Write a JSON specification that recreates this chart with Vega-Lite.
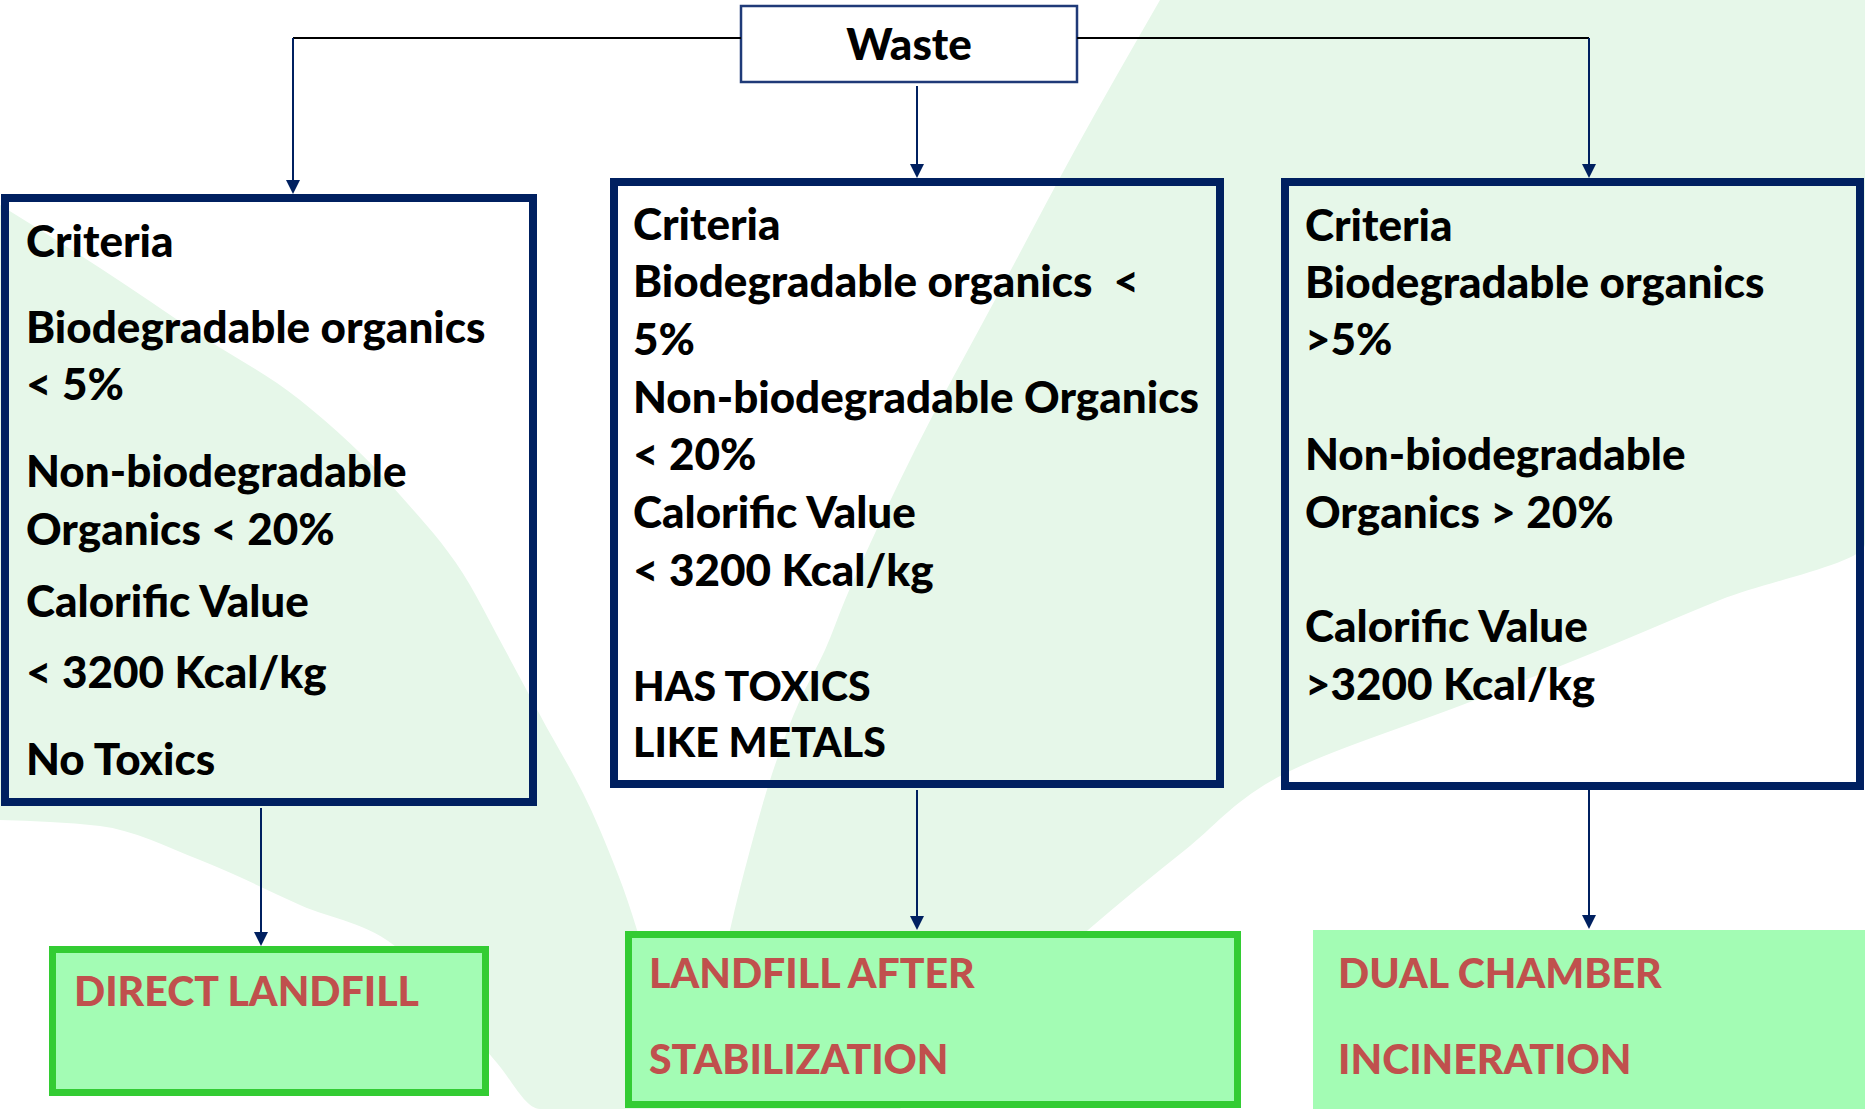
{
  "$schema": "https://vega.github.io/schema/vega-lite/v6.json",
  "width": 1865,
  "height": 1109,
  "autosize": {"type": "fit", "contains": "padding"},
  "padding": 0,
  "background": "white",
  "config": {"view": {"stroke": null}},
  "datasets": {
    "leafB": [
      {"x": 0, "top": 205, "bot": 820},
      {"x": 100, "top": 268, "bot": 826},
      {"x": 200, "top": 335, "bot": 860},
      {"x": 300, "top": 400, "bot": 905},
      {"x": 400, "top": 495, "bot": 950},
      {"x": 470, "top": 585, "bot": 1030},
      {"x": 497, "top": 635, "bot": 1063},
      {"x": 540, "top": 715, "bot": 1109},
      {"x": 600, "top": 830, "bot": 1109},
      {"x": 637, "top": 930, "bot": 1109},
      {"x": 680, "top": 1109, "bot": 1109}
    ],
    "leafA": [
      {"y": 0, "left": 1160, "right": 1865},
      {"y": 150, "left": 1075, "right": 1865},
      {"y": 300, "left": 995, "right": 1865},
      {"y": 450, "left": 915, "right": 1865},
      {"y": 544, "left": 870, "right": 1865},
      {"y": 600, "left": 845, "right": 1720},
      {"y": 650, "left": 825, "right": 1600},
      {"y": 700, "left": 800, "right": 1475},
      {"y": 774, "left": 772, "right": 1284},
      {"y": 850, "left": 750, "right": 1185},
      {"y": 930, "left": 730, "right": 1088},
      {"y": 1109, "left": 700, "right": 900}
    ],
    "criteriaBoxes": [
      {"box": "left", "x": 5, "x2": 533, "y": 198, "y2": 802},
      {"box": "middle", "x": 614, "x2": 1220, "y": 182, "y2": 784},
      {"box": "right", "x": 1285, "x2": 1860, "y": 182, "y2": 786}
    ],
    "wasteBox": [
      {"box": "Waste", "x": 741, "x2": 1077, "y": 6, "y2": 82}
    ],
    "outcomeBoxes": [
      {"box": "DIRECT LANDFILL", "x": 52.5, "x2": 485.5, "y": 949.5, "y2": 1092.5},
      {"box": "LANDFILL AFTER STABILIZATION", "x": 628.5, "x2": 1237.5, "y": 934.5, "y2": 1104.5}
    ],
    "outcomeBoxesPlain": [
      {"box": "DUAL CHAMBER INCINERATION", "x": 1313, "x2": 1865, "y": 930, "y2": 1109}
    ],
    "blackLines": [
      {"x": 293, "x2": 741, "y": 38, "y2": 38},
      {"x": 1077, "x2": 1589, "y": 38, "y2": 38}
    ],
    "navyLines": [
      {"x": 293, "x2": 293, "y": 38, "y2": 186},
      {"x": 917, "x2": 917, "y": 86, "y2": 170},
      {"x": 1589, "x2": 1589, "y": 38, "y2": 170},
      {"x": 261, "x2": 261, "y": 808, "y2": 938},
      {"x": 917, "x2": 917, "y": 790, "y2": 922},
      {"x": 1589, "x2": 1589, "y": 790, "y2": 922}
    ],
    "arrowHeads": [
      {"x": 293, "y": 187},
      {"x": 917, "y": 171},
      {"x": 1589, "y": 171},
      {"x": 261, "y": 939},
      {"x": 917, "y": 923},
      {"x": 1589, "y": 922}
    ],
    "blackText": [
      {"x": 26, "y": 257, "t": "Criteria"},
      {"x": 26, "y": 343, "t": "Biodegradable organics"},
      {"x": 26, "y": 400, "t": "< 5%"},
      {"x": 26, "y": 487, "t": "Non-biodegradable"},
      {"x": 26, "y": 545, "t": "Organics < 20%"},
      {"x": 26, "y": 617, "t": "Calorific Value"},
      {"x": 26, "y": 688, "t": "< 3200 Kcal/kg"},
      {"x": 26, "y": 775, "t": "No Toxics"},
      {"x": 633, "y": 240, "t": "Criteria"},
      {"x": 633, "y": 297, "t": "Biodegradable organics\u00a0 <"},
      {"x": 633, "y": 355, "t": "5%"},
      {"x": 633, "y": 413, "t": "Non-biodegradable Organics"},
      {"x": 633, "y": 470, "t": "< 20%"},
      {"x": 633, "y": 528, "t": "Calorific Value"},
      {"x": 633, "y": 586, "t": "< 3200 Kcal/kg"},
      {"x": 1305, "y": 241, "t": "Criteria"},
      {"x": 1305, "y": 298, "t": "Biodegradable organics"},
      {"x": 1305, "y": 355, "t": ">5%"},
      {"x": 1305, "y": 470, "t": "Non-biodegradable"},
      {"x": 1305, "y": 528, "t": "Organics > 20%"},
      {"x": 1305, "y": 642, "t": "Calorific Value"},
      {"x": 1305, "y": 700, "t": ">3200 Kcal/kg"}
    ],
    "capsText": [
      {"x": 633, "y": 701, "t": "HAS TOXICS"},
      {"x": 633, "y": 757, "t": "LIKE METALS"}
    ],
    "titleText": [
      {"x": 909, "y": 60, "t": "Waste"}
    ],
    "redText": [
      {"x": 74, "y": 1006, "t": "DIRECT LANDFILL"},
      {"x": 649, "y": 988, "t": "LANDFILL AFTER"},
      {"x": 649, "y": 1074, "t": "STABILIZATION"},
      {"x": 1338, "y": 988, "t": "DUAL CHAMBER"},
      {"x": 1338, "y": 1074, "t": "INCINERATION"}
    ]
  },
  "layer": [
    {
      "data": {"name": "leafB"},
      "mark": {"type": "area", "orient": "vertical", "color": "#e6f7e9", "interpolate": "monotone", "clip": true},
      "encoding": {
        "x": {"field": "x", "type": "quantitative", "scale": {"domain": [0, 1865], "nice": false, "zero": false}, "axis": null},
        "y": {"field": "top", "type": "quantitative", "scale": {"domain": [0, 1109], "nice": false, "zero": false, "reverse": true}, "axis": null},
        "y2": {"field": "bot"}
      }
    },
    {
      "data": {"name": "leafA"},
      "mark": {"type": "area", "orient": "horizontal", "color": "#e6f7e9", "interpolate": "monotone", "clip": true},
      "encoding": {
        "y": {"field": "y", "type": "quantitative", "axis": null},
        "x": {"field": "left", "type": "quantitative", "axis": null},
        "x2": {"field": "right"}
      }
    },
    {
      "data": {"name": "outcomeBoxesPlain"},
      "mark": {"type": "rect", "fill": "#a3fcb4"},
      "encoding": {
        "x": {"field": "x", "type": "quantitative"},
        "x2": {"field": "x2"},
        "y": {"field": "y", "type": "quantitative"},
        "y2": {"field": "y2"}
      }
    },
    {
      "data": {"name": "outcomeBoxes"},
      "mark": {"type": "rect", "fill": "#a3fcb4", "stroke": "#33cc33", "strokeWidth": 7},
      "encoding": {
        "x": {"field": "x", "type": "quantitative"},
        "x2": {"field": "x2"},
        "y": {"field": "y", "type": "quantitative"},
        "y2": {"field": "y2"}
      }
    },
    {
      "data": {"name": "criteriaBoxes"},
      "mark": {"type": "rect", "filled": false, "stroke": "#002060", "strokeWidth": 8},
      "encoding": {
        "x": {"field": "x", "type": "quantitative"},
        "x2": {"field": "x2"},
        "y": {"field": "y", "type": "quantitative"},
        "y2": {"field": "y2"}
      }
    },
    {
      "data": {"name": "wasteBox"},
      "mark": {"type": "rect", "fill": "white", "stroke": "#1f3a78", "strokeWidth": 2.5},
      "encoding": {
        "x": {"field": "x", "type": "quantitative"},
        "x2": {"field": "x2"},
        "y": {"field": "y", "type": "quantitative"},
        "y2": {"field": "y2"}
      }
    },
    {
      "data": {"name": "blackLines"},
      "mark": {"type": "rule", "color": "#000000", "strokeWidth": 2},
      "encoding": {
        "x": {"field": "x", "type": "quantitative"},
        "x2": {"field": "x2"},
        "y": {"field": "y", "type": "quantitative"},
        "y2": {"field": "y2"}
      }
    },
    {
      "data": {"name": "navyLines"},
      "mark": {"type": "rule", "color": "#002060", "strokeWidth": 2},
      "encoding": {
        "x": {"field": "x", "type": "quantitative"},
        "x2": {"field": "x2"},
        "y": {"field": "y", "type": "quantitative"},
        "y2": {"field": "y2"}
      }
    },
    {
      "data": {"name": "arrowHeads"},
      "mark": {"type": "point", "shape": "M-1,-1L1,-1L0,1Z", "filled": true, "color": "#002060", "size": 196, "opacity": 1},
      "encoding": {
        "x": {"field": "x", "type": "quantitative"},
        "y": {"field": "y", "type": "quantitative"}
      }
    },
    {
      "data": {"name": "blackText"},
      "mark": {"type": "text", "align": "left", "baseline": "alphabetic", "font": "Lato", "fontWeight": 900, "fontSize": 44, "color": "#000000"},
      "encoding": {
        "x": {"field": "x", "type": "quantitative"},
        "y": {"field": "y", "type": "quantitative"},
        "text": {"field": "t"}
      }
    },
    {
      "data": {"name": "capsText"},
      "mark": {"type": "text", "align": "left", "baseline": "alphabetic", "font": "Lato", "fontWeight": 900, "fontSize": 41, "color": "#000000"},
      "encoding": {
        "x": {"field": "x", "type": "quantitative"},
        "y": {"field": "y", "type": "quantitative"},
        "text": {"field": "t"}
      }
    },
    {
      "data": {"name": "titleText"},
      "mark": {"type": "text", "align": "center", "baseline": "alphabetic", "font": "Lato", "fontWeight": 900, "fontSize": 44, "color": "#000000"},
      "encoding": {
        "x": {"field": "x", "type": "quantitative"},
        "y": {"field": "y", "type": "quantitative"},
        "text": {"field": "t"}
      }
    },
    {
      "data": {"name": "redText"},
      "mark": {"type": "text", "align": "left", "baseline": "alphabetic", "font": "Lato", "fontWeight": 900, "fontSize": 41, "color": "#c0504d"},
      "encoding": {
        "x": {"field": "x", "type": "quantitative"},
        "y": {"field": "y", "type": "quantitative"},
        "text": {"field": "t"}
      }
    }
  ]
}
